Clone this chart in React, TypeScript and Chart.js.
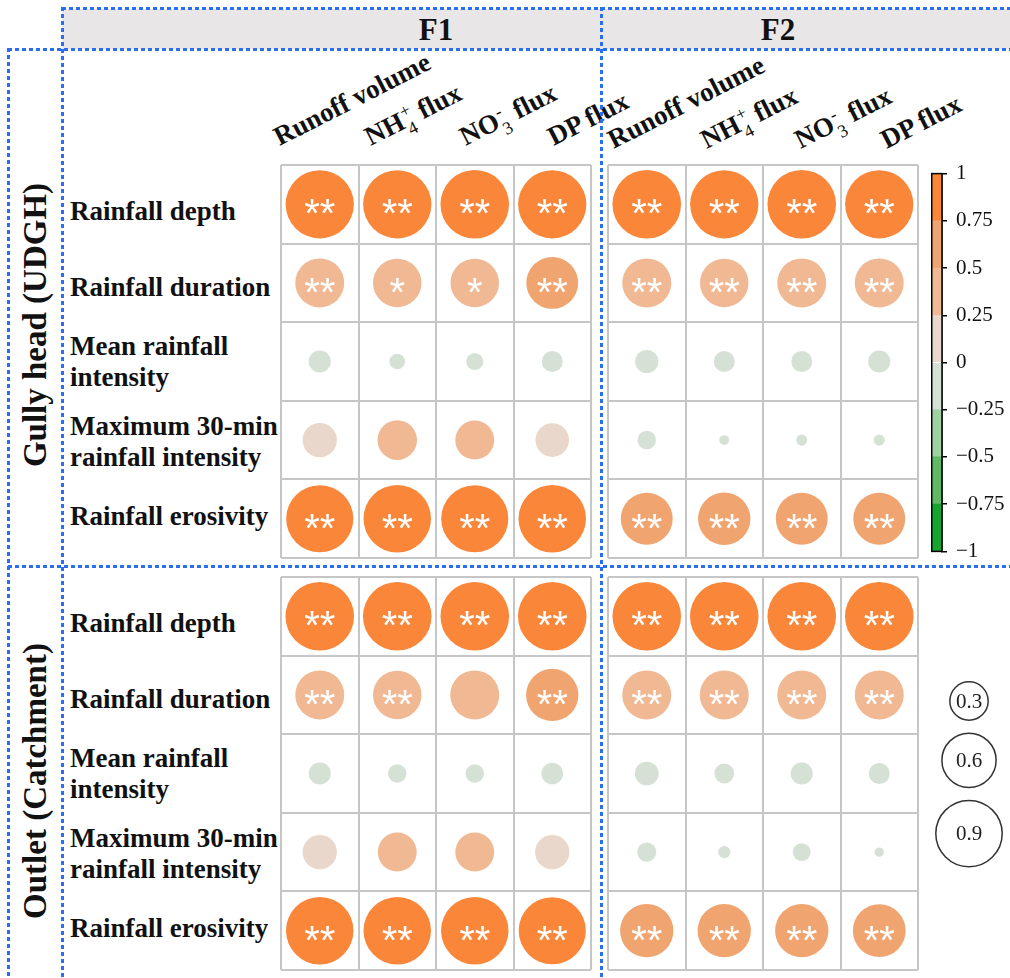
import React, { useEffect, useRef } from "react";
import { Chart, registerables } from "chart.js";
Chart.register(...registerables);

// ---------------- DATA ----------------
const rowLabels = [
  "Rainfall depth",
  "Rainfall duration",
  "Mean rainfall\nintensity",
  "Maximum 30-min\nrainfall intensity",
  "Rainfall erosivity",
];
const columnLabels = ["Runoff volume", "NH4+ flux", "NO3- flux", "DP flux"];
const factorLabels = ["F1", "F2"];
const siteLabels = ["Gully head (UDGH)", "Outlet (Catchment)"];

// correlation coefficients: rows = rowLabels, columns = columnLabels
const udghF1 = [
  [0.95, 0.95, 0.96, 0.95],
  [0.49, 0.48, 0.48, 0.55],
  [-0.1, -0.05, -0.06, -0.09],
  [0.24, 0.32, 0.31, 0.23],
  [0.92, 0.93, 0.92, 0.93],
];
const udghF1Sig = [
  ["**", "**", "**", "**"],
  ["**", "*", "*", "**"],
  ["", "", "", ""],
  ["", "", "", ""],
  ["**", "**", "**", "**"],
];
const udghF2 = [
  [0.96, 0.95, 0.96, 0.95],
  [0.49, 0.48, 0.49, 0.49],
  [-0.11, -0.09, -0.09, -0.1],
  [-0.07, -0.02, -0.025, -0.025],
  [0.55, 0.56, 0.55, 0.55],
];
const udghF2Sig = [
  ["**", "**", "**", "**"],
  ["**", "**", "**", "**"],
  ["", "", "", ""],
  ["", "", "", ""],
  ["**", "**", "**", "**"],
];
const outletF1 = [
  [0.96, 0.96, 0.96, 0.96],
  [0.49, 0.48, 0.49, 0.56],
  [-0.1, -0.07, -0.07, -0.095],
  [0.24, 0.31, 0.31, 0.24],
  [0.93, 0.93, 0.93, 0.92],
];
const outletF1Sig = [
  ["**", "**", "**", "**"],
  ["**", "**", "", "**"],
  ["", "", "", ""],
  ["", "", "", ""],
  ["**", "**", "**", "**"],
];
const outletF2 = [
  [0.96, 0.96, 0.96, 0.96],
  [0.49, 0.49, 0.49, 0.49],
  [-0.115, -0.08, -0.1, -0.09],
  [-0.075, -0.03, -0.065, -0.018],
  [0.58, 0.58, 0.58, 0.57],
];
const outletF2Sig = [
  ["**", "**", "**", "**"],
  ["**", "**", "**", "**"],
  ["", "", "", ""],
  ["", "", "", ""],
  ["**", "**", "**", "**"],
];

const colorBreaks = [-1, -0.75, -0.5, -0.25, 0, 0.25, 0.5, 0.75, 1];
const colorBands = ["#17a42f", "#60b965", "#a0d1a1", "#d6e1d6", "#e8d7ca", "#f0b994", "#f0a571", "#f98639"];
const sizeLegendValues = [0.3, 0.6, 0.9];

// ---------------- STYLE / LAYOUT ----------------
const SERIF = '"Liberation Serif", "Times New Roman", Times, serif';
const SANS = '"Liberation Sans", Arial, Helvetica, sans-serif';
const BLUE = "#2a6ff0";
const RADIUS_K = 35;
const GRID_W = 310;
const GRID_H = 393;
const PAD = 2;
const panelGridX = [281, 608];
const panelGridY = [165, 577];
const rowLabelOffsets = [7, 5, 0, 2, -2];
const colLabelStarts = [
  [280, 371, 466, 554],
  [614, 707, 801, 887],
];
const colLabelBaselines = [147, 150];

const radiusOf = (v: number) => RADIUS_K * Math.sqrt(Math.abs(v));
const colorOf = (v: number) => {
  let i = colorBreaks.findIndex((b, k) => k < colorBreaks.length - 1 && v >= b && v < colorBreaks[k + 1]);
  if (i < 0) i = v >= 1 ? colorBands.length - 1 : 0;
  return colorBands[i];
};
const boundaries = (n: number) => Array.from({ length: n + 1 }, (_, i) => i - 0.5);

const starPlugin = {
  id: "stars",
  afterDatasetsDraw(chart: any, _args: any, opts: any) {
    const sig: string[] = opts.sig || [];
    const ctx = chart.ctx;
    const meta = chart.getDatasetMeta(0);
    const fs = 40;
    ctx.save();
    ctx.fillStyle = "#ffffff";
    ctx.font = `${fs}px ${SANS}`;
    ctx.textAlign = "center";
    ctx.textBaseline = "alphabetic";
    meta.data.forEach((el: any, i: number) => {
      const s = sig[i];
      if (!s) return;
      ctx.fillText(s, el.x, el.y + fs * 0.57);
    });
    ctx.restore();
  },
};

function Panel({ values, sig, left, top }: { values: number[][]; sig: string[][]; left: number; top: number }) {
  const ref = useRef<HTMLCanvasElement>(null);
  useEffect(() => {
    const points: any[] = [];
    const colors: string[] = [];
    const sigs: string[] = [];
    values.forEach((row, r) =>
      row.forEach((v, c) => {
        points.push({ x: c, y: r, r: radiusOf(v) });
        colors.push(colorOf(v));
        sigs.push(sig[r][c]);
      })
    );
    const xb = boundaries(columnLabels.length);
    const yb = boundaries(rowLabels.length);
    const gridOpts = { color: "#c6c6c6", lineWidth: 2, drawTicks: false };
    const chart = new Chart(ref.current!, {
      type: "bubble",
      data: { datasets: [{ data: points, backgroundColor: colors, borderWidth: 0, hoverBorderWidth: 0, clip: false } as any] },
      options: {
        animation: false,
        responsive: false,
        events: [],
        layout: { padding: PAD, autoPadding: false },
        plugins: { legend: { display: false }, tooltip: { enabled: false }, stars: { sig: sigs } } as any,
        scales: {
          x: {
            type: "linear",
            min: xb[0],
            max: xb[xb.length - 1],
            afterBuildTicks: (a: any) => {
              a.ticks = xb.map((value) => ({ value }));
            },
            ticks: { display: false },
            grid: gridOpts,
            border: { display: false },
          },
          y: {
            type: "linear",
            min: yb[0],
            max: yb[yb.length - 1],
            reverse: true,
            afterBuildTicks: (a: any) => {
              a.ticks = yb.map((value) => ({ value }));
            },
            ticks: { display: false },
            grid: gridOpts,
            border: { display: false },
          },
        },
      } as any,
      plugins: [starPlugin],
    });
    return () => chart.destroy();
  }, []);
  const w = GRID_W + 2 * PAD;
  const h = GRID_H + 2 * PAD;
  return (
    <canvas
      ref={ref}
      width={w}
      height={h}
      style={{ position: "absolute", left: left - PAD, top: top - PAD, width: w, height: h }}
    />
  );
}

function ColorBar() {
  const ref = useRef<HTMLCanvasElement>(null);
  useEffect(() => {
    const outline = {
      id: "outline",
      afterDraw(chart: any) {
        const { ctx, chartArea: a } = chart;
        ctx.save();
        ctx.strokeStyle = "#000";
        ctx.lineWidth = 1.5;
        ctx.strokeRect(a.left + 0.75, a.top, a.right - a.left - 0.75, a.bottom - a.top);
        ctx.restore();
      },
    };
    const chart = new Chart(ref.current!, {
      type: "bar",
      data: {
        labels: [""],
        datasets: colorBands.map((c, i) => ({
          data: [[colorBreaks[i], colorBreaks[i + 1]]] as any,
          backgroundColor: c,
          borderWidth: 0,
          grouped: false,
          barPercentage: 1,
          categoryPercentage: 1,
        })) as any,
      },
      options: {
        animation: false,
        responsive: false,
        events: [],
        layout: { padding: { top: 14, bottom: 14, left: 0, right: 0 } },
        plugins: { legend: { display: false }, tooltip: { enabled: false } },
        scales: {
          x: { display: false },
          y: {
            position: "right",
            min: colorBreaks[0],
            max: colorBreaks[colorBreaks.length - 1],
            afterFit: (s: any) => {
              s.width = 68;
            },
            ticks: {
              stepSize: 0.25,
              padding: 9,
              color: "#111",
              font: { family: SERIF, size: 21 },
              callback: (v: any) => String(Math.round(Number(v) * 100) / 100).replace("-", "\u2212"),
            },
            grid: { drawOnChartArea: false, drawTicks: true, tickLength: 5, color: "#000", lineWidth: 1.5 },
            border: { display: true, color: "#000", width: 1.5 },
          },
        },
      },
      plugins: [outline],
    });
    return () => chart.destroy();
  }, []);
  return <canvas ref={ref} width={79} height={421} style={{ position: "absolute", left: 931, top: 152, width: 79, height: 421 }} />;
}

function SizeLegend() {
  const ref = useRef<HTMLCanvasElement>(null);
  const H = 220;
  useEffect(() => {
    const gap = 13;
    const centers: number[] = [];
    sizeLegendValues.forEach((v, i) => {
      if (i === 0) centers.push(41);
      else centers.push(centers[i - 1] + radiusOf(sizeLegendValues[i - 1]) + gap + radiusOf(v));
    });
    const labelPlugin = {
      id: "sizeLabels",
      afterDatasetsDraw(chart: any) {
        const ctx = chart.ctx;
        const meta = chart.getDatasetMeta(0);
        ctx.save();
        ctx.fillStyle = "#222";
        ctx.font = `21px ${SERIF}`;
        ctx.textAlign = "center";
        ctx.textBaseline = "middle";
        meta.data.forEach((el: any, i: number) => ctx.fillText(String(sizeLegendValues[i]), el.x, el.y + 1));
        ctx.restore();
      },
    };
    const chart = new Chart(ref.current!, {
      type: "bubble",
      data: {
        datasets: [
          {
            data: sizeLegendValues.map((v, i) => ({ x: 0.5, y: centers[i], r: radiusOf(v) })),
            backgroundColor: "rgba(255,255,255,0)",
            borderColor: "#333",
            borderWidth: 1.5,
            clip: false,
          } as any,
        ],
      },
      options: {
        animation: false,
        responsive: false,
        events: [],
        layout: { padding: 0, autoPadding: false },
        plugins: { legend: { display: false }, tooltip: { enabled: false } },
        scales: {
          x: { display: false, min: 0, max: 1 },
          y: { display: false, min: 0, max: H, reverse: true },
        },
      } as any,
      plugins: [labelPlugin],
    });
    return () => chart.destroy();
  }, []);
  return <canvas ref={ref} width={78} height={H} style={{ position: "absolute", left: 930, top: 660, width: 78, height: H }} />;
}

function renderColLabel(s: string) {
  const m = s.match(/^([A-Z]+)(\d)([+-])(.*)$/);
  if (!m) return s;
  return (
    <>
      {m[1]}
      <span style={{ display: "inline-block", position: "relative", width: 12, height: 0 }}>
        <span style={{ position: "absolute", left: 1, bottom: 7, fontSize: 18, lineHeight: "18px", fontWeight: "normal" }}>{m[3]}</span>
        <span style={{ position: "absolute", left: 1, top: -6, fontSize: 18, lineHeight: "18px", fontWeight: "normal" }}>{m[2]}</span>
      </span>
      {m[4]}
    </>
  );
}

function DashH({ x1, x2, y }: { x1: number; x2: number; y: number }) {
  return (
    <div
      style={{
        position: "absolute",
        left: x1,
        top: y,
        width: x2 - x1,
        height: 3,
        background: `repeating-linear-gradient(to right, ${BLUE} 0 4px, transparent 4px 7px)`,
      }}
    />
  );
}
function DashV({ y1, y2, x }: { y1: number; y2: number; x: number }) {
  return (
    <div
      style={{
        position: "absolute",
        left: x,
        top: y1,
        width: 3,
        height: y2 - y1,
        background: `repeating-linear-gradient(to bottom, ${BLUE} 0 4px, transparent 4px 7px)`,
      }}
    />
  );
}

export default function App() {
  const panels = [
    [udghF1, udghF1Sig, udghF2, udghF2Sig],
    [outletF1, outletF1Sig, outletF2, outletF2Sig],
  ] as any[];
  const rowH = GRID_H / rowLabels.length;
  const titleCenters = [436, 778];
  const siteCenters = [325, 781];
  return (
    <div
      style={{
        position: "absolute",
        left: 0,
        top: 0,
        width: 1010,
        height: 978,
        overflow: "hidden",
        background: "#fff",
        fontFamily: SERIF,
        color: "#111",
      }}
    >
      {/* header band */}
      <div style={{ position: "absolute", left: 62, top: 9, width: 948, height: 40, background: "#e8e6e6" }} />
      {factorLabels.map((f, i) => (
        <div
          key={f}
          style={{
            position: "absolute",
            left: titleCenters[i],
            top: 29,
            transform: "translate(-50%, -50%)",
            fontWeight: "bold",
            fontSize: 31,
            lineHeight: "31px",
          }}
        >
          {f}
        </div>
      ))}

      {/* site labels */}
      {siteLabels.map((s, i) => (
        <div
          key={s}
          style={{
            position: "absolute",
            left: 35,
            top: siteCenters[i],
            transform: "translate(-50%, -50%) rotate(-90deg)",
            whiteSpace: "nowrap",
            fontWeight: "bold",
            fontSize: 33,
            lineHeight: "33px",
          }}
        >
          {s}
        </div>
      ))}

      {/* row labels */}
      {panelGridY.map((gy, p) =>
        rowLabels.map((lab, i) => (
          <div
            key={p + "-" + i}
            style={{
              position: "absolute",
              left: 70,
              top: gy + (i + 0.5) * rowH + rowLabelOffsets[i] - 40,
              height: 80,
              width: 215,
              display: "flex",
              flexDirection: "column",
              justifyContent: "center",
              fontWeight: "bold",
              fontSize: 27,
              lineHeight: "31px",
              whiteSpace: "nowrap",
            }}
          >
            {lab.split("\n").map((l, k) => (
              <div key={k}>{l}</div>
            ))}
          </div>
        ))
      )}

      {/* column labels */}
      {colLabelStarts.map((starts, p) =>
        columnLabels.map((lab, i) => (
          <div
            key={p + "-" + i}
            style={{
              position: "absolute",
              left: starts[i],
              top: colLabelBaselines[p] - 23,
              height: 27,
              lineHeight: "27px",
              fontSize: 27,
              fontWeight: "bold",
              whiteSpace: "nowrap",
              transformOrigin: "0 23px",
              transform: "rotate(-27deg)",
            }}
          >
            {renderColLabel(lab)}
          </div>
        ))
      )}

      {/* panels */}
      {panels.map((pp, r) => (
        <React.Fragment key={r}>
          <Panel values={pp[0]} sig={pp[1]} left={panelGridX[0]} top={panelGridY[r]} />
          <Panel values={pp[2]} sig={pp[3]} left={panelGridX[1]} top={panelGridY[r]} />
        </React.Fragment>
      ))}

      <ColorBar />
      <SizeLegend />

      {/* dashed frame lines */}
      <DashH x1={62} x2={1010} y={7} />
      <DashH x1={8} x2={1010} y={48} />
      <DashH x1={8} x2={1010} y={565} />
      <DashV y1={48} y2={978} x={7} />
      <DashV y1={7} y2={978} x={61} />
      <DashV y1={7} y2={978} x={600} />
    </div>
  );
}
